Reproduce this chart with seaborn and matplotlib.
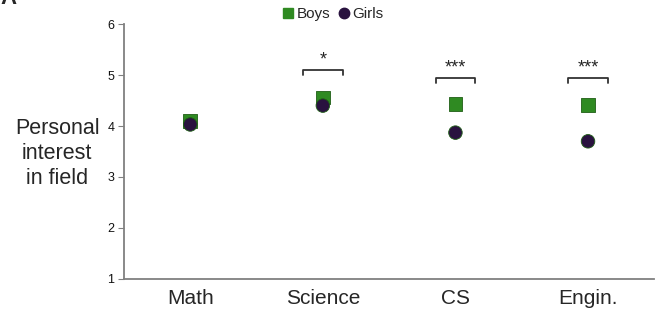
import matplotlib
matplotlib.use("Agg")
import matplotlib.pyplot as plt
import pandas as pd
import seaborn as sns
from matplotlib.lines import Line2D

# data
fields = ["Math", "Science", "CS", "Engin."]
boys = [4.10, 4.56, 4.43, 4.41]
girls = [4.03, 4.40, 3.87, 3.70]
sig_fields = ["Science", "CS", "Engin."]
sig_labels = ["*", "***", "***"]
sig_heights = [5.10, 4.95, 4.95]

df = pd.DataFrame({
    "field": fields * 2,
    "interest": boys + girls,
    "group": ["Boys"] * 4 + ["Girls"] * 4,
})

sns.set_style("white")
plt.rcParams["font.family"] = ["Liberation Sans", "DejaVu Sans"]

fig = plt.figure(figsize=(6.58, 3.15), dpi=100)
ax = fig.add_axes([0.1884, 0.1143, 0.806, 0.8095])

colors = {"Boys": "#2f8a22", "Girls": "#29123f"}
sns.scatterplot(data=df, x="field", y="interest", hue="group", style="group",
                markers={"Boys": "s", "Girls": "o"}, palette=colors,
                s=95, linewidth=0.6, ax=ax, legend=False, zorder=3)
# darker outlines
for coll, grp in zip(ax.collections, ["Boys", "Girls"]):
    coll.set_edgecolor("#1f5e16" if grp == "Boys" else "#150820")

ax.set_xlim(-0.5, 3.5)
ax.set_ylim(1, 6)
ax.set_yticks([1, 2, 3, 4, 5, 6])
ax.tick_params(axis="y", labelsize=9, length=4, width=0.8, color="#808080",
               left=True, pad=3, labelcolor="#111111")
ax.tick_params(axis="x", labelsize=15, length=0, pad=7)
ax.set_xlabel("")
ax.set_ylabel("Personal\ninterest\nin field", fontsize=15.5, rotation=0,
              ha="center", va="center", linespacing=1.25)
ax.yaxis.set_label_coords(-0.126, 0.494)
for side in ["top", "right"]:
    ax.spines[side].set_visible(False)
for side in ["left", "bottom"]:
    ax.spines[side].set_color("#808080")
    ax.spines[side].set_linewidth(1.3)

# significance brackets
for f, lab, h in zip(sig_fields, sig_labels, sig_heights):
    i = fields.index(f)
    ax.plot([i - 0.15, i - 0.15, i + 0.15, i + 0.15], [h - 0.1, h, h, h - 0.1],
            color="#333333", lw=1.3, clip_on=False)
    ax.text(i, h + 0.03, lab, ha="center", va="bottom", fontsize=13)

# legend
handles = [Line2D([], [], marker="s", ls="", color=colors["Boys"], markersize=7.5),
           Line2D([], [], marker="o", ls="", color=colors["Girls"], markersize=7.5)]
fig.legend(handles, ["Boys", "Girls"], loc="center", bbox_to_anchor=(0.505, 0.955),
           ncol=2, frameon=False, fontsize=11, handletextpad=0.05,
           columnspacing=0.4, handlelength=1.0, borderaxespad=0)

# panel letter, cut off at the top edge as in the source figure
fig.text(0.0, 1.004, "A", fontsize=16, fontweight="bold", va="center", ha="left")

fig.savefig("out.png", dpi=100)
